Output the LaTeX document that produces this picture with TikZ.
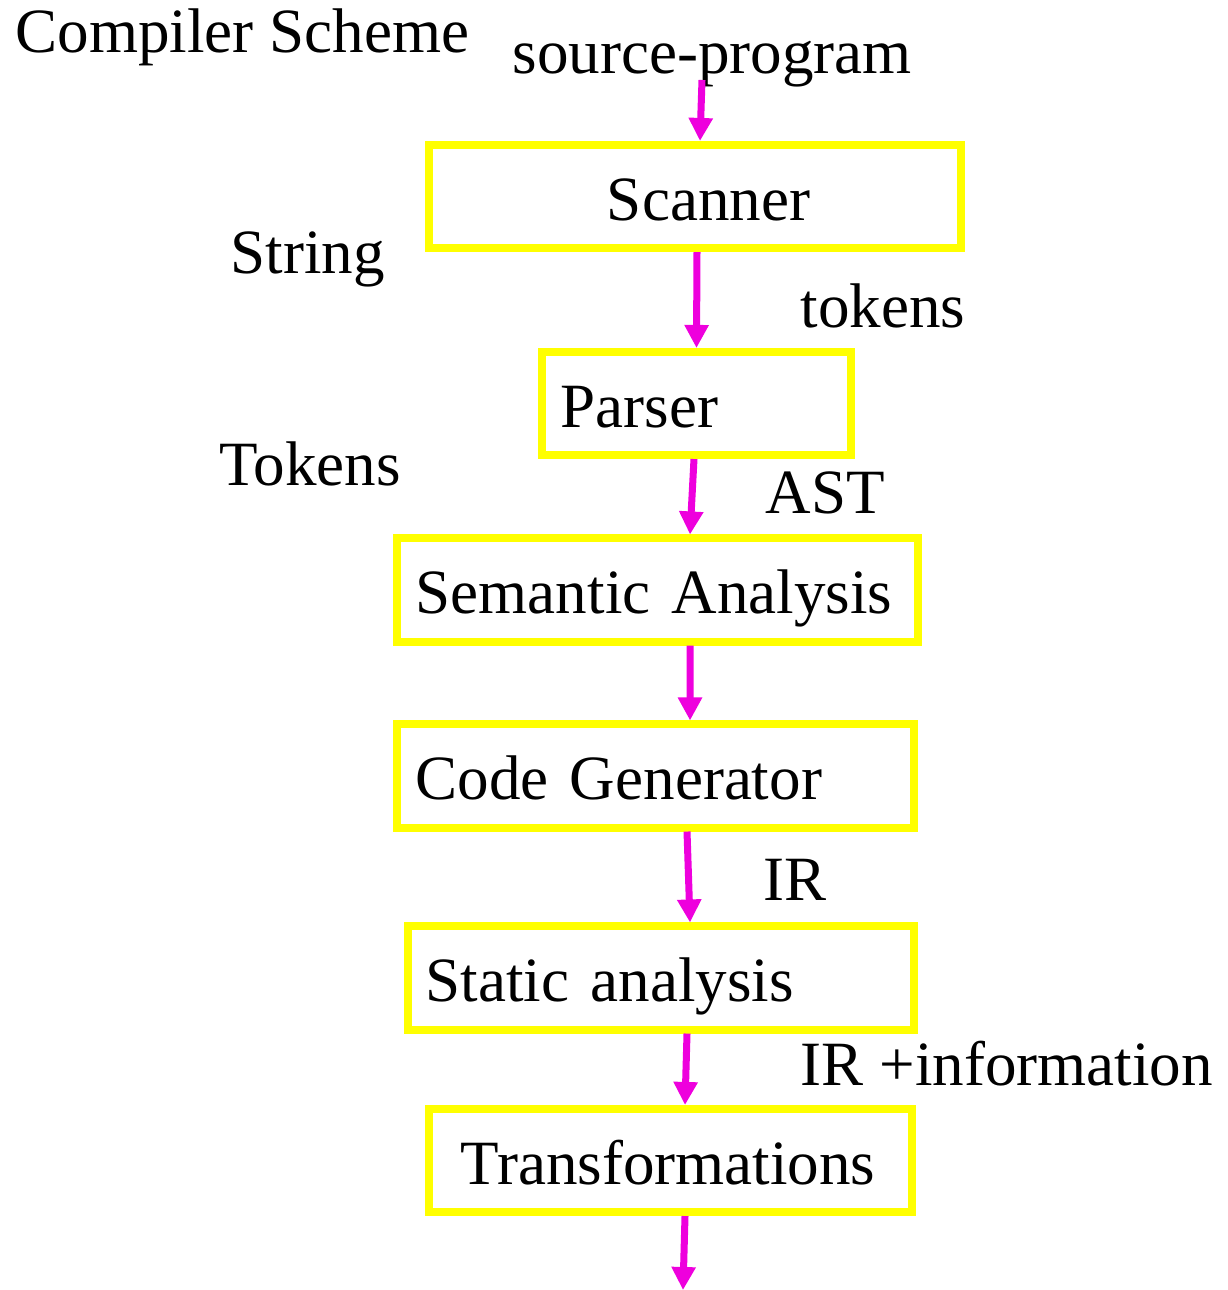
\documentclass[tikz,border=0pt]{standalone}
\usepackage{fontspec}
\setmainfont{Liberation Serif}
\usetikzlibrary{arrows.meta}
\definecolor{stageyellow}{RGB}{255,255,0}
\definecolor{flowpink}{RGB}{238,0,221}

\begin{document}
\begin{tikzpicture}[
      x=0.01cm, y=-0.01cm,
      every node/.style={font=\fontsize{17.93pt}{21pt}\selectfont},
      stage/.style={draw=stageyellow, line width=0.08cm, minimum height=1.03cm,
        text height=0.47cm, text depth=0cm, inner ysep=0cm, align=left},
      tag/.style={anchor=base west, inner sep=0pt},
      flow/.style={draw=flowpink, line width=0.07cm,
        -{Triangle[length=0.23cm, width=0.23cm]}}
    ]

    \useasboundingbox (0,0) rectangle (1228,1290);

    \node[tag] (title) at (15,52) {Compiler Scheme};
    \node[tag] (src) at (512,73) {source-program};
    \node[tag] (string) at (230,273) {String};
    \node[tag] (tokens) at (800,327) {tokens};
    \node[tag] (Tokens) at (219,485) {Tokens};
    \node[tag] (ast) at (765,513) {AST};
    \node[tag] (ir) at (763,900) {IR};
    \node[tag] (irinfo) at (800,1085) {IR +information};

    \node[stage, minimum width=5.32cm, inner xsep=1.78cm, text width=1.76cm] (scanner) at (695,196.5) {Scanner};
    \node[stage, minimum width=3.09cm, inner xsep=0.19cm, text width=2.71cm] (parser) at (696.5,403.5) {Parser};
    \node[stage, minimum width=5.21cm, inner xsep=0.19cm, text width=4.83cm] (semantic) at (657.5,590) {Semantic Analysis};
    \node[stage, minimum width=5.17cm, inner xsep=0.19cm, text width=4.79cm] (codegen) at (655.5,776) {Code Generator};
    \node[stage, minimum width=5.06cm, inner xsep=0.18cm, text width=4.70cm] (static) at (661,978) {Static analysis};
    \node[stage, minimum width=4.83cm, inner xsep=0.32cm, text width=4.19cm] (transf) at (670.5,1160.5) {Transformations};

    \coordinate (in) at (702,80);
    \coordinate (out) at (683,1290);

    \draw[flow] (in) -- ([xshift=0.05cm]scanner.north);
    \draw[flow] ([xshift=0.02cm]scanner.south) -- (parser.north);
    \draw[flow] ([xshift=-0.025cm]parser.south) -- ([xshift=0.325cm]semantic.north);
    \draw[flow] ([xshift=0.325cm]semantic.south) -- ([xshift=0.345cm]codegen.north);
    \draw[flow] ([xshift=0.315cm]codegen.south) -- ([xshift=0.29cm]static.north);
    \draw[flow] ([xshift=0.26cm]static.south) -- ([xshift=0.145cm]transf.north);
    \draw[flow] ([xshift=0.145cm]transf.south) -- (out);

    \end{tikzpicture}
\end{document}
